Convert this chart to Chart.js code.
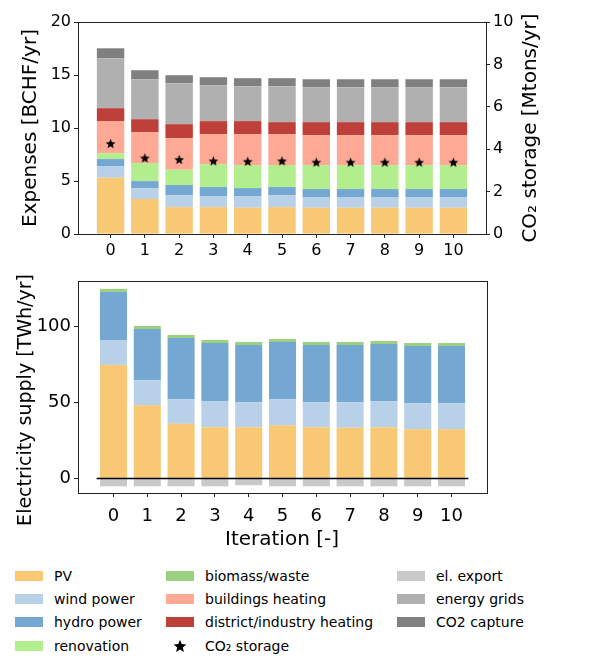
<!DOCTYPE html>
<html>
<head>
<meta charset="utf-8">
<script src="https://cdn.jsdelivr.net/npm/chart.js@4.4.0/dist/chart.umd.min.js"></script>
<style>
  body { margin: 0; background: #fff; font-family: 'DejaVu Sans', sans-serif; }
  #wrap { position: relative; width: 598px; height: 659px; }
  #top { position: absolute; left: 0; top: 0; }
  #bottom { position: absolute; left: 0; top: 262px; }
  .lg { position: absolute; font-size: 14px; line-height: 16px; color: #000; white-space: nowrap; }
  .sw { position: absolute; width: 28px; height: 10px; }
</style>
</head>
<body>
<div id="wrap">
  <canvas id="top" width="598" height="262"></canvas>
  <canvas id="bottom" width="598" height="298"></canvas>
  <div id="legend"></div>
</div>
<script>
const iterations = [0, 1, 2, 3, 4, 5, 6, 7, 8, 9, 10];

// expenses [BCHF/yr]
const costPV       = [5.31, 3.30, 2.54, 2.54, 2.48, 2.54, 2.48, 2.48, 2.48, 2.48, 2.48];
const costWind     = [1.10, 1.03, 1.13, 1.04, 1.10, 1.13, 1.01, 1.01, 1.01, 1.01, 1.01];
const costHydro    = [0.66, 0.66, 0.95, 0.85, 0.75, 0.76, 0.75, 0.75, 0.75, 0.75, 0.75];
const costRenov    = [0.56, 1.70, 1.44, 2.16, 2.17, 2.07, 2.26, 2.26, 2.26, 2.26, 2.26];
const costBuild    = [3.02, 2.92, 2.98, 2.83, 2.92, 2.92, 2.83, 2.83, 2.83, 2.83, 2.83];
const costDistrict = [1.22, 1.22, 1.32, 1.23, 1.23, 1.13, 1.22, 1.22, 1.22, 1.22, 1.22];
const costGrids    = [4.71, 3.77, 3.87, 3.39, 3.29, 3.39, 3.30, 3.30, 3.30, 3.30, 3.30];
const costCapture  = [0.94, 0.85, 0.75, 0.75, 0.76, 0.76, 0.75, 0.75, 0.75, 0.75, 0.75];
// CO2 storage [Mtons/yr]
const co2Storage   = [4.27, 3.59, 3.52, 3.45, 3.43, 3.45, 3.39, 3.39, 3.39, 3.39, 3.39];

// electricity supply [TWh/yr]
const elPV      = [74.8, 48.3, 36.0, 33.8, 33.8, 35.1, 33.8, 33.4, 33.8, 32.5, 32.5];
const elWind    = [16.4, 16.5, 16.3, 17.2, 16.5, 17.2, 16.5, 16.9, 17.2, 17.1, 17.1];
const elHydro   = [31.6, 33.6, 40.2, 38.2, 37.6, 37.5, 37.6, 37.6, 37.5, 37.6, 37.6];
const elBiomass = [2.0, 2.0, 2.0, 2.0, 2.0, 2.0, 2.0, 2.0, 2.0, 2.0, 2.0];
const elExport  = [-5.1, -5.1, -5.1, -5.1, -4.4, -5.1, -5.1, -5.1, -5.1, -5.1, -5.1];

const leftTicks = [0, 5, 10, 15, 20];
const rightTicks = [0, 2, 4, 6, 8, 10];
const elTicks = [0, 50, 100];

const colors = {
  pv: '#f9c875', wind: '#b8d1e8', hydro: '#74a7d2', renov: '#b3ee8e',
  biomass: '#9bd17e', build: '#fea996', district: '#bf403a',
  export: '#c9c9c9', grids: '#b0b0b0', capture: '#808080'
};

const FONT = "'DejaVu Sans', sans-serif";
Chart.defaults.font.family = FONT;
Chart.defaults.color = '#000';
Chart.defaults.animation = false;

// filled star marker
function makeStar(size) {
  const c = document.createElement('canvas');
  c.width = size; c.height = size;
  const g = c.getContext('2d');
  const r = size / 2, ri = r * 0.42;
  g.beginPath();
  for (let i = 0; i < 10; i++) {
    const rad = i % 2 ? ri : r - 0.3;
    const a = -Math.PI / 2 + i * Math.PI / 5;
    g.lineTo(r + rad * Math.cos(a), r + 0.5 + rad * Math.sin(a));
  }
  g.closePath();
  g.fillStyle = '#000';
  g.fill();
  return c;
}
const star = makeStar(11);

const xy = (arr) => arr.map((v, i) => ({ x: iterations[i], y: v }));

const framePlugin = {
  id: 'frame',
  afterDraw(chart) {
    const a = chart.chartArea, ctx = chart.ctx;
    ctx.save();
    ctx.strokeStyle = '#222';
    ctx.lineWidth = 1;
    ctx.strokeRect(Math.round(a.left) + 0.5, Math.round(a.top) + 0.5,
      Math.round(a.right - a.left), Math.round(a.bottom - a.top));
    ctx.restore();
  }
};

const titlesPlugin = {
  id: 'titles',
  afterDraw(chart, args, opts) {
    const ctx = chart.ctx;
    (opts.items || []).forEach(t => {
      ctx.save();
      ctx.translate(t.x, t.y);
      ctx.rotate(t.rot || 0);
      ctx.font = (t.size || 20) + 'px ' + FONT;
      ctx.fillStyle = '#000';
      ctx.textAlign = 'center';
      ctx.textBaseline = 'middle';
      ctx.fillText(t.text, 0, 0);
      ctx.restore();
    });
  }
};

function fixW(w) { return (s) => { s.width = w; }; }
function fixH(h) { return (s) => { s.height = h; }; }
function setTicks(vals) { return (s) => { s.ticks = vals.map(v => ({ value: v })); }; }

function axisStyle(size, pad) {
  return {
    offset: false,
    grid: { drawOnChartArea: false, drawTicks: true, tickLength: 4, tickColor: '#222', offset: false },
    border: { display: true, color: '#222', width: 1 },
    ticks: { font: { size: size }, color: '#000', padding: pad || 3 }
  };
}

function bar(label, data, color) {
  return { type: 'bar', label, data: xy(data), backgroundColor: color, borderWidth: 0,
    barPercentage: 0.8, categoryPercentage: 1, stack: 's' };
}

// top chart: expenses
new Chart(document.getElementById('top'), {
  type: 'bar',
  data: {
    datasets: [
      { type: 'line', label: 'CO₂ storage', data: xy(co2Storage), yAxisID: 'y1', showLine: false,
        pointStyle: star, pointRadius: 5, order: -1 },
      bar('PV', costPV, colors.pv),
      bar('wind power', costWind, colors.wind),
      bar('hydro power', costHydro, colors.hydro),
      bar('renovation', costRenov, colors.renov),
      bar('buildings heating', costBuild, colors.build),
      bar('district/industry heating', costDistrict, colors.district),
      bar('energy grids', costGrids, colors.grids),
      bar('CO2 capture', costCapture, colors.capture)
    ]
  },
  options: {
    responsive: false,
    layout: { padding: { top: 22, left: 0, right: 0, bottom: 0 } },
    plugins: {
      legend: { display: false }, tooltip: { enabled: false },
      titles: { items: [
        { text: 'Expenses [BCHF/yr]', x: 31, y: 128, rot: -Math.PI / 2 },
        { text: 'CO₂ storage [Mtons/yr]', x: 531, y: 128, rot: -Math.PI / 2 }
      ] }
    },
    scales: {
      x: Object.assign(axisStyle(16), { type: 'linear', stacked: true, min: -0.95, max: 10.95,
        afterBuildTicks: setTicks(iterations), afterFit: fixH(28) }),
      y: Object.assign(axisStyle(16), { position: 'left', stacked: true, min: 0, max: 20,
        afterBuildTicks: setTicks(leftTicks), afterFit: fixW(78) }),
      y1: Object.assign(axisStyle(16), { position: 'right', min: 0, max: 10,
        afterBuildTicks: setTicks(rightTicks), afterFit: fixW(112) })
    }
  },
  plugins: [framePlugin, titlesPlugin]
});

// bottom chart: electricity supply
new Chart(document.getElementById('bottom'), {
  type: 'bar',
  data: {
    datasets: [
      { type: 'line', label: 'zero', data: [{ x: -0.5, y: 0 }, { x: 10.5, y: 0 }], borderColor: '#000',
        borderWidth: 1.5, pointRadius: 0, order: -1, stack: 'line' },
      bar('PV', elPV, colors.pv),
      bar('wind power', elWind, colors.wind),
      bar('hydro power', elHydro, colors.hydro),
      bar('biomass/waste', elBiomass, colors.biomass),
      bar('el. export', elExport, colors.export)
    ]
  },
  options: {
    responsive: false,
    layout: { padding: { top: 19, left: 0, right: 111, bottom: 0 } },
    plugins: {
      legend: { display: false }, tooltip: { enabled: false },
      titles: { items: [
        { text: 'Electricity supply [TWh/yr]', x: 26, y: 138, rot: -Math.PI / 2, size: 19 },
        { text: 'Iteration [-]', x: 282, y: 278, rot: 0 }
      ] }
    },
    scales: {
      x: Object.assign(axisStyle(18, 9), { type: 'linear', stacked: true, min: -1.05, max: 11.05,
        afterBuildTicks: setTicks(iterations), afterFit: fixH(67) }),
      y: Object.assign(axisStyle(18), { position: 'left', stacked: true, min: -9.5, max: 130,
        afterBuildTicks: setTicks(elTicks), afterFit: fixW(78) })
    }
  },
  plugins: [framePlugin, titlesPlugin]
});

// legend, three columns
const legendItems = [
  { text: 'PV', color: colors.pv, x: 15, row: 0 },
  { text: 'wind power', color: colors.wind, x: 15, row: 1 },
  { text: 'hydro power', color: colors.hydro, x: 15, row: 2 },
  { text: 'renovation', color: colors.renov, x: 15, row: 3 },
  { text: 'biomass/waste', color: colors.biomass, x: 166, row: 0 },
  { text: 'buildings heating', color: colors.build, x: 166, row: 1 },
  { text: 'district/industry heating', color: colors.district, x: 166, row: 2 },
  { text: 'CO₂ storage', star: true, x: 166, row: 3 },
  { text: 'el. export', color: colors.export, x: 397, row: 0 },
  { text: 'energy grids', color: colors.grids, x: 397, row: 1 },
  { text: 'CO2 capture', color: colors.capture, x: 397, row: 2 }
];
const lg = document.getElementById('legend');
legendItems.forEach(it => {
  const cy = 576 + it.row * 23.2;
  if (it.star) {
    const s = makeStar(14);
    s.style.position = 'absolute';
    s.style.left = (it.x + 7) + 'px';
    s.style.top = (cy - 7) + 'px';
    lg.appendChild(s);
  } else {
    const sw = document.createElement('div');
    sw.className = 'sw';
    sw.style.left = it.x + 'px';
    sw.style.top = (cy - 5) + 'px';
    sw.style.background = it.color;
    lg.appendChild(sw);
  }
  const t = document.createElement('div');
  t.className = 'lg';
  t.style.left = (it.x + 39) + 'px';
  t.style.top = (cy - 8) + 'px';
  t.textContent = it.text;
  lg.appendChild(t);
});
</script>
</body>
</html>
